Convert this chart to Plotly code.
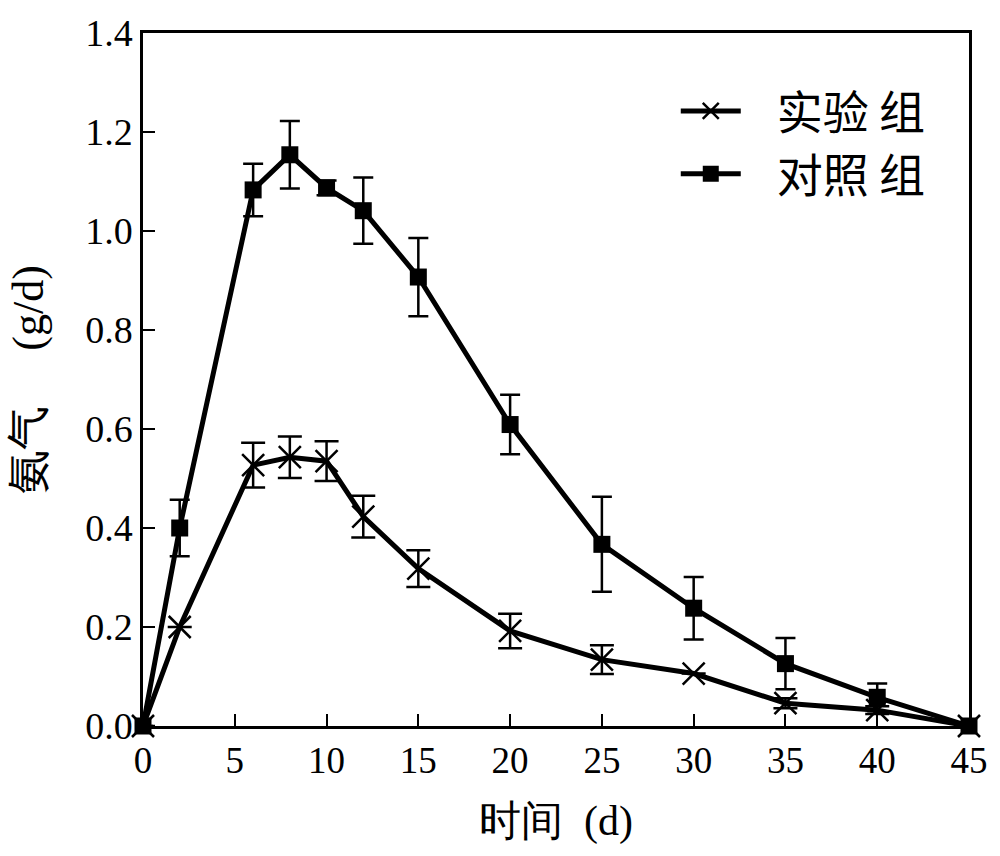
import plotly.graph_objects as go

days = [0, 2, 6, 8, 10, 12, 15, 20, 25, 30, 35, 40, 45]
exp_vals = [0, 0.20, 0.527, 0.543, 0.535, 0.423, 0.318, 0.192, 0.134, 0.106, 0.046, 0.032, 0]
exp_err = [0, 0, 0.045, 0.042, 0.040, 0.042, 0.037, 0.035, 0.029, 0, 0.01, 0.008, 0]
ctl_vals = [0, 0.40, 1.083, 1.154, 1.087, 1.041, 0.907, 0.609, 0.367, 0.238, 0.126, 0.058, 0]
ctl_err = [0, 0.057, 0.053, 0.068, 0.015, 0.067, 0.079, 0.060, 0.096, 0.063, 0.052, 0.028, 0]

x_ticks = [0, 5, 10, 15, 20, 25, 30, 35, 40, 45]
y_ticks = [0.0, 0.2, 0.4, 0.6, 0.8, 1.0, 1.2, 1.4]

FONT = "Liberation Serif"
CJK = "Noto Sans CJK SC"

fig = go.Figure()
fig.add_trace(go.Scatter(
    x=days, y=exp_vals, name="   实验 组", mode="lines+markers",
    line=dict(color="black", width=5),
    marker=dict(symbol="x-thin", size=22, line=dict(color="black", width=2.5), color="black"),
    error_y=dict(type="data", array=exp_err, visible=True, color="black", thickness=2.5, width=12),
    cliponaxis=False,
))
fig.add_trace(go.Scatter(
    x=days, y=ctl_vals, name="   对照 组", mode="lines+markers",
    line=dict(color="black", width=5),
    marker=dict(symbol="square", size=17, color="black"),
    error_y=dict(type="data", array=ctl_err, visible=True, color="black", thickness=2.5, width=10),
    cliponaxis=False,
))

fig.update_layout(
    width=1000, height=856,
    margin=dict(l=143, r=24, t=26, b=130),
    paper_bgcolor="white", plot_bgcolor="white",
    font=dict(family=FONT, color="black", size=36),
    showlegend=True,
    legend=dict(x=0.645, y=0.94, xanchor="left", yanchor="top",
                font=dict(size=46, family=CJK), bgcolor="rgba(0,0,0,0)",
                itemwidth=60, tracegroupgap=16),
    xaxis=dict(range=[0, 45], tickvals=x_ticks, ticks="inside", ticklen=12, tickwidth=2,
               tickcolor="black", showline=True, linecolor="black", linewidth=2.5, mirror=True,
               showgrid=False, zeroline=False, tickfont=dict(size=37, family=FONT),
               title=dict(text="时间  (d)", font=dict(size=42, family=FONT), standoff=26)),
    yaxis=dict(range=[0, 1.4], tickvals=y_ticks, tickformat=".1f", ticks="inside", ticklen=12,
               tickwidth=2, tickcolor="black", showline=True, linecolor="black", linewidth=2.5, mirror=True,
               showgrid=False, zeroline=False, tickfont=dict(size=38, family=FONT),
               title=dict(text="氨气     (g/d)", font=dict(size=44, family=FONT), standoff=28)),
)

fig.write_html("out.html")
